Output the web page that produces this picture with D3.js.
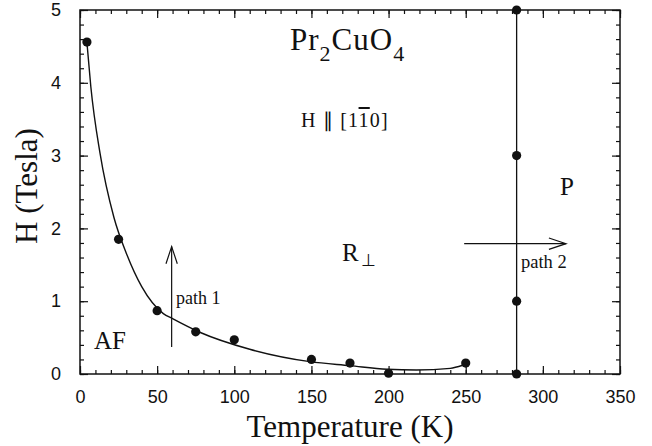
<!DOCTYPE html>
<html>
<head>
<meta charset="utf-8">
<script src="https://cdn.jsdelivr.net/npm/d3@7"></script>
<style>
  html, body { margin: 0; padding: 0; background: #fff; }
  svg { display: block; }
  .serif { font-family: "Liberation Serif", "Times New Roman", serif; fill: #111; }
  .tick text { font-family: "Liberation Sans", Arial, sans-serif; font-size: 18px; fill: #111; }
</style>
</head>
<body>
<svg id="chart" width="652" height="446"></svg>
<script>
// Measured phase boundary: temperature (K) and field (Tesla)
const lowTemps   = [4.5, 25, 50, 75, 100, 150, 175, 200, 250];
const lowFields  = [4.56, 1.85, 0.87, 0.58, 0.47, 0.20, 0.15, 0.01, 0.15];
const highTemps  = [283, 283, 283, 283];
const highFields = [0, 1.0, 3.0, 5.0];

// Guide-to-the-eye curve through the low-temperature boundary
const fitTemps  = [4.5, 7, 13, 22, 30, 40, 54, 60, 78, 110, 149, 175, 199, 218, 240, 248];
const fitFields = [4.55, 3.95, 3.03, 2.15, 1.66, 1.20, 0.83, 0.76, 0.57, 0.34, 0.17, 0.115, 0.065, 0.055, 0.078, 0.12];

// Axis ticks
const xMajor = [0, 50, 100, 150, 200, 250, 300, 350];
const yMajor = [0, 1, 2, 3, 4, 5];
const xMinor = d3.range(0, 351, 10);
const yMinor = d3.range(0, 5.01, 0.2);

const svg = d3.select("#chart");
const plotLeft = 80, plotRight = 620, plotTop = 10, plotBottom = 374;

const x = d3.scaleLinear().domain([0, 350]).range([plotLeft, plotRight]);
const y = d3.scaleLinear().domain([0, 5]).range([plotBottom, plotTop]);

const ink = "#111";

// Ticks on all four sides, pointing inward
function addAxis(axisGen, tx, ty) {
  const g = svg.append("g").attr("transform", `translate(${tx},${ty})`).call(axisGen);
  g.select(".domain").remove();
  g.selectAll(".tick line").attr("stroke", ink).attr("stroke-width", 1.2);
  return g;
}
// bottom
addAxis(d3.axisBottom(x).tickValues(xMinor).tickSize(-4).tickFormat(""), 0, plotBottom);
const xb = addAxis(d3.axisBottom(x).tickValues(xMajor).tickSize(-8).tickPadding(16).tickFormat(d3.format("d")), 0, plotBottom);
xb.selectAll(".tick text").attr("dy", "0.71em");
// top
addAxis(d3.axisTop(x).tickValues(xMinor).tickSize(-4).tickFormat(""), 0, plotTop);
addAxis(d3.axisTop(x).tickValues(xMajor).tickSize(-8).tickFormat(""), 0, plotTop);
// left
addAxis(d3.axisLeft(y).tickValues(yMinor).tickSize(-4).tickFormat(""), plotLeft, 0);
addAxis(d3.axisLeft(y).tickValues(yMajor).tickSize(-8).tickPadding(19).tickFormat(d3.format("d")), plotLeft, 0);
// right
addAxis(d3.axisRight(y).tickValues(yMinor).tickSize(-4).tickFormat(""), plotRight, 0);
addAxis(d3.axisRight(y).tickValues(yMajor).tickSize(-8).tickFormat(""), plotRight, 0);

// Frame
svg.append("rect")
  .attr("x", plotLeft).attr("y", plotTop)
  .attr("width", plotRight - plotLeft).attr("height", plotBottom - plotTop)
  .attr("fill", "none").attr("stroke", ink).attr("stroke-width", 1.5);

// Boundary curves
const fitData = fitTemps.map((t, i) => [t, fitFields[i]]);
const line = d3.line().x(d => x(d[0])).y(d => y(d[1])).curve(d3.curveMonotoneX);
svg.append("path").datum(fitData).attr("d", line)
  .attr("fill", "none").attr("stroke", ink).attr("stroke-width", 1.4);

const highData = highTemps.map((t, i) => [t, highFields[i]]);
svg.append("path").datum(highData)
  .attr("d", d3.line().x(d => x(d[0])).y(d => y(d[1])))
  .attr("fill", "none").attr("stroke", ink).attr("stroke-width", 1.3);

// Data points
const pts = lowTemps.map((t, i) => [t, lowFields[i]]).concat(highData);
svg.append("g").selectAll("circle").data(pts).join("circle")
  .attr("cx", d => x(d[0])).attr("cy", d => y(d[1])).attr("r", 4.6)
  .attr("fill", ink);

// Measurement paths (arrows)
function arrow(x1, y1, x2, y2) {
  const g = svg.append("g").attr("stroke", ink).attr("stroke-width", 1.2).attr("fill", "none");
  g.append("line").attr("x1", x1).attr("y1", y1).attr("x2", x2).attr("y2", y2);
  const ang = Math.atan2(y2 - y1, x2 - x1);
  const len = 18, half = 0.32;
  g.append("polyline").attr("points", [
    [x2 - len * Math.cos(ang - half), y2 - len * Math.sin(ang - half)],
    [x2, y2],
    [x2 - len * Math.cos(ang + half), y2 - len * Math.sin(ang + half)]
  ].map(p => p.join(",")).join(" "));
}
arrow(x(59.4), y(0.37), x(59.4), y(1.75));
arrow(x(249), y(1.79), x(315), y(1.79));

// Labels
function label(txt, px, py, size, anchor) {
  return svg.append("text").attr("class", "serif")
    .attr("x", px).attr("y", py).attr("font-size", size)
    .attr("text-anchor", anchor || "start").text(txt);
}

// Compound formula with subscripts
const title = svg.append("text").attr("class", "serif")
  .attr("x", 290).attr("y", 50).attr("font-size", 31).attr("letter-spacing", 1);
title.append("tspan").text("Pr");
title.append("tspan").attr("font-size", 22).attr("dy", 11).text("2");
title.append("tspan").attr("dy", -11).text("CuO");
title.append("tspan").attr("font-size", 22).attr("dy", 11).text("4");

// Field direction
const dir = svg.append("text").attr("class", "serif")
  .attr("x", 301).attr("y", 127).attr("font-size", 20).attr("letter-spacing", 1.2);
dir.append("tspan").text("H \u2225 [1");
dir.append("tspan").style("text-decoration", "overline").text("1");
dir.append("tspan").text("0]");

// Phase regions
const rperp = svg.append("text").attr("class", "serif")
  .attr("x", 342).attr("y", 261).attr("font-size", 25);
rperp.append("tspan").text("R");
rperp.append("tspan").attr("font-size", 17).attr("dy", 5).attr("dx", 2).text("\u22A5");

label("P", 560, 195, 25);
label("AF", 94, 349, 25);
label("path 1", 176, 304, 18);
label("path 2", 521, 268, 18.5);

// Axis titles
svg.append("text").attr("class", "serif")
  .attr("x", 350).attr("y", 437).attr("font-size", 31)
  .attr("text-anchor", "middle").text("Temperature  (K)");
svg.append("text").attr("class", "serif")
  .attr("transform", "translate(37,186) rotate(-90)")
  .attr("font-size", 31).attr("text-anchor", "middle").text("H (Tesla)");
</script>
</body>
</html>
